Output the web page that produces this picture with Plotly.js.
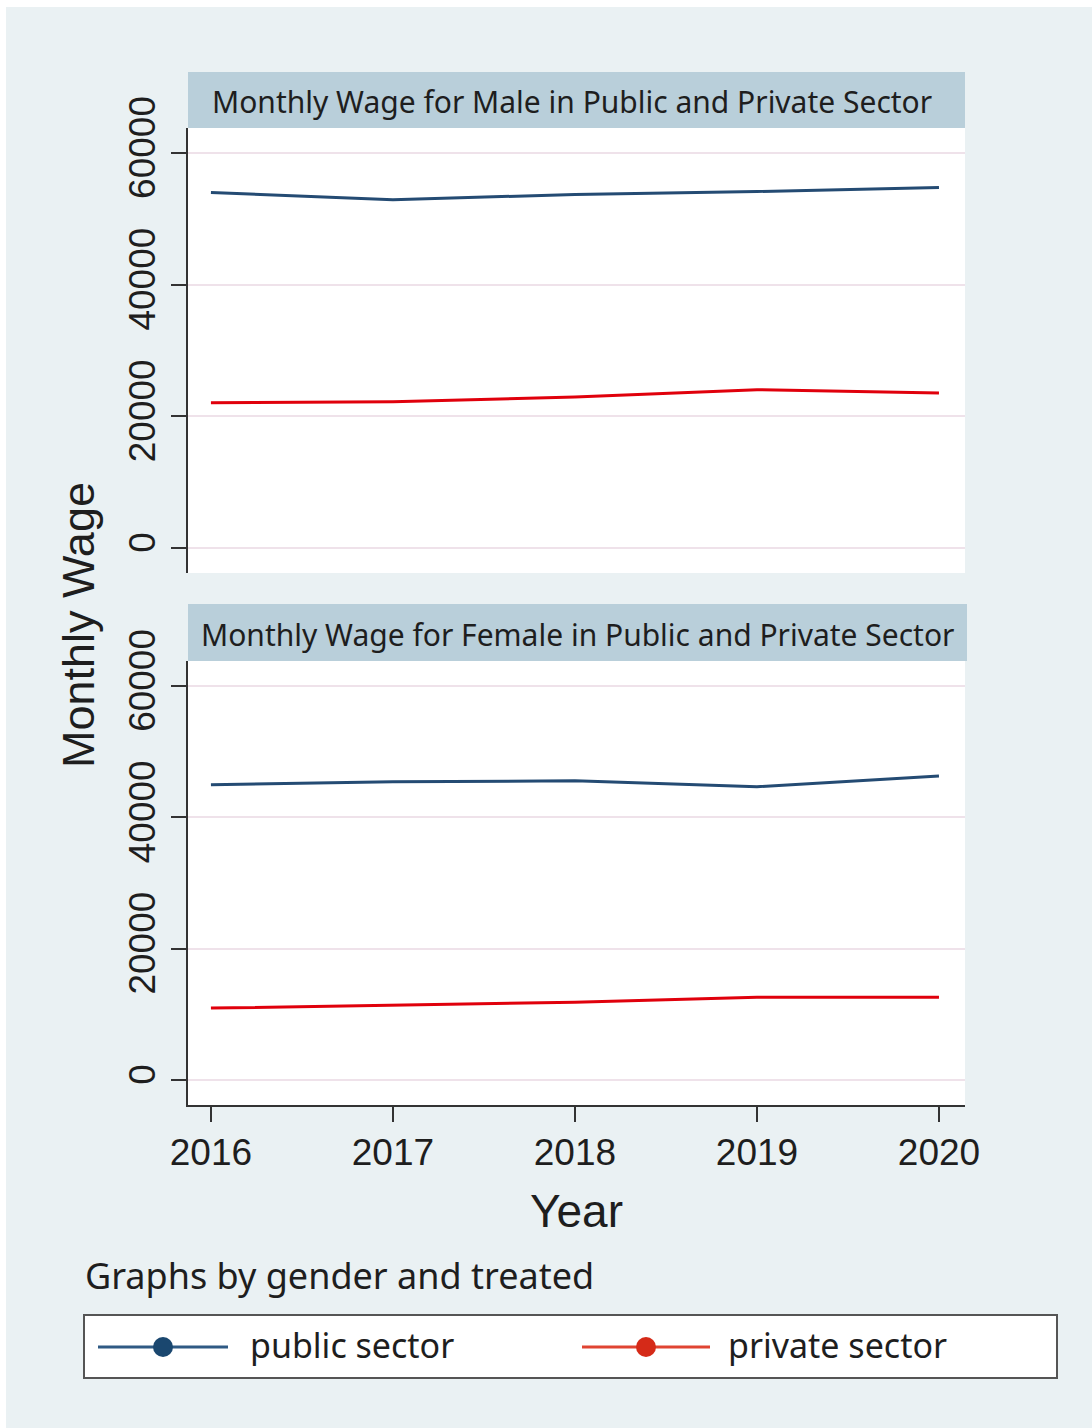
<!DOCTYPE html>
<html>
<head>
<meta charset="utf-8">
<script src="https://cdn.plot.ly/plotly-3.0.1.min.js"></script>
<style>html,body{margin:0;padding:0;background:#fff;}#chart{width:1092px;height:1428px;}</style>
</head>
<body>
<div id="chart"></div>
<script>
// ---- data ----
const years = [2016, 2017, 2018, 2019, 2020];
const malePublic = [54000, 52900, 53700, 54150, 54750];
const malePrivate = [22050, 22200, 22950, 24050, 23550];
const femalePublic = [44950, 45400, 45550, 44650, 46300];
const femalePrivate = [10950, 11400, 11850, 12600, 12600];
const yTicks = [0, 20000, 40000, 60000];
const panelTitles = ["Monthly Wage for Male in Public and Private Sector",
                     "Monthly Wage for Female in Public and Private Sector"];
const seriesNames = ["public sector", "private sector"];

// ---- layout helpers (pixel -> paper) ----
const W = 1092, H = 1428;
const px = v => v / W;
const py = v => 1 - v / H;

const publicColor = "#244b73";
const privateColor = "#e0000c";
const tickFont = {family: "Liberation Sans, Arial, sans-serif", size: 37, color: "#1e1e1e"};
const uiFont = "Noto Sans, Open Sans, sans-serif";

const traces = [
  {x: years, y: malePublic, xaxis: "x", yaxis: "y", mode: "lines", line: {color: publicColor, width: 3}, showlegend: false, name: seriesNames[0]},
  {x: years, y: malePrivate, xaxis: "x", yaxis: "y", mode: "lines", line: {color: privateColor, width: 3}, showlegend: false, name: seriesNames[1]},
  {x: years, y: femalePublic, xaxis: "x", yaxis: "y2", mode: "lines", line: {color: publicColor, width: 3}, showlegend: false, name: seriesNames[0]},
  {x: years, y: femalePrivate, xaxis: "x", yaxis: "y2", mode: "lines", line: {color: privateColor, width: 3}, showlegend: false, name: seriesNames[1]}
];

const yCommon = {
  range: [-3800, 63800], tickvals: yTicks, ticktext: yTicks.map(String),
  tickangle: -90, ticks: "outside", ticklen: 15, tickwidth: 2, tickcolor: "#333",
  showline: true, linecolor: "#333", linewidth: 2,
  showgrid: true, gridcolor: "#efe2ea", gridwidth: 2, zeroline: false,
  tickfont: tickFont, anchor: "x", fixedrange: true, ticklabelstandoff: 1
};

const layout = {
  width: W, height: H,
  margin: {l: 0, r: 0, t: 0, b: 0},
  paper_bgcolor: "#eaf1f3",
  plot_bgcolor: "#ffffff",
  showlegend: false,
  xaxis: {
    domain: [px(188), px(965)], range: [2015.874, 2020.143], anchor: "y2",
    tickvals: years, ticktext: years.map(String),
    ticks: "outside", ticklen: 15, tickwidth: 2, tickcolor: "#333",
    showline: true, linecolor: "#333", linewidth: 2,
    showgrid: false, zeroline: false, tickfont: tickFont, ticklabelstandoff: -1,
    title: {text: "Year", font: {family: "Liberation Sans, Arial, sans-serif", size: 46, color: "#1e1e1e"}, standoff: 22}
  },
  yaxis: Object.assign({}, yCommon, {domain: [py(573), py(128)]}),
  yaxis2: Object.assign({}, yCommon, {domain: [py(1105), py(661)]}),
  shapes: [
    // white edge strips
    {type: "rect", xref: "paper", yref: "paper", x0: 0, x1: 1, y0: py(7), y1: 1, fillcolor: "#ffffff", line: {width: 0}, layer: "below"},
    {type: "rect", xref: "paper", yref: "paper", x0: 0, x1: px(6), y0: 0, y1: 1, fillcolor: "#ffffff", line: {width: 0}, layer: "below"},
    // panel headers
    {type: "rect", xref: "paper", yref: "paper", x0: px(188), x1: px(965), y0: py(128), y1: py(72), fillcolor: "#b9cfda", line: {width: 0}},
    {type: "rect", xref: "paper", yref: "paper", x0: px(188), x1: px(967), y0: py(661), y1: py(604), fillcolor: "#b9cfda", line: {width: 0}},
    // legend box
    {type: "rect", xref: "paper", yref: "paper", x0: px(84), x1: px(1057), y0: py(1378), y1: py(1315), fillcolor: "#ffffff", line: {color: "#555", width: 2}},
    {type: "line", xref: "paper", yref: "paper", x0: px(98), x1: px(228), y0: py(1347), y1: py(1347), line: {color: "#2f5a84", width: 3}},
    {type: "circle", xref: "paper", yref: "paper", xsizemode: "pixel", ysizemode: "pixel", xanchor: px(163), yanchor: py(1347), x0: -10, x1: 10, y0: -10, y1: 10, fillcolor: "#1a476f", line: {width: 0}},
    {type: "line", xref: "paper", yref: "paper", x0: px(582), x1: px(710), y0: py(1347), y1: py(1347), line: {color: "#e04432", width: 3}},
    {type: "circle", xref: "paper", yref: "paper", xsizemode: "pixel", ysizemode: "pixel", xanchor: px(646), yanchor: py(1347), x0: -10, x1: 10, y0: -10, y1: 10, fillcolor: "#d52a18", line: {width: 0}}
  ],
  annotations: [
    {text: panelTitles[0], xref: "paper", yref: "paper", x: px(572), y: py(102), xanchor: "center", yanchor: "middle", showarrow: false, font: {family: uiFont, size: 30, color: "#1e1e1e"}},
    {text: panelTitles[1], xref: "paper", yref: "paper", x: px(577), y: py(634), xanchor: "center", yanchor: "middle", showarrow: false, font: {family: uiFont, size: 30, color: "#1e1e1e"}},
    {text: "Monthly Wage", xref: "paper", yref: "paper", x: px(78), y: py(625), xanchor: "center", yanchor: "middle", textangle: -90, showarrow: false, font: {family: "Liberation Sans, Arial, sans-serif", size: 45, color: "#1e1e1e"}},
    {text: "Graphs by gender and treated", xref: "paper", yref: "paper", x: px(83), y: py(1275), xanchor: "left", yanchor: "middle", showarrow: false, font: {family: uiFont, size: 36, color: "#1e1e1e"}},
    {text: seriesNames[0], xref: "paper", yref: "paper", x: px(248), y: py(1345), xanchor: "left", yanchor: "middle", showarrow: false, font: {family: uiFont, size: 34, color: "#1e1e1e"}},
    {text: seriesNames[1], xref: "paper", yref: "paper", x: px(726), y: py(1345), xanchor: "left", yanchor: "middle", showarrow: false, font: {family: uiFont, size: 34, color: "#1e1e1e"}}
  ]
};

Plotly.newPlot("chart", traces, layout, {displayModeBar: false, staticPlot: true});
</script>
</body>
</html>
